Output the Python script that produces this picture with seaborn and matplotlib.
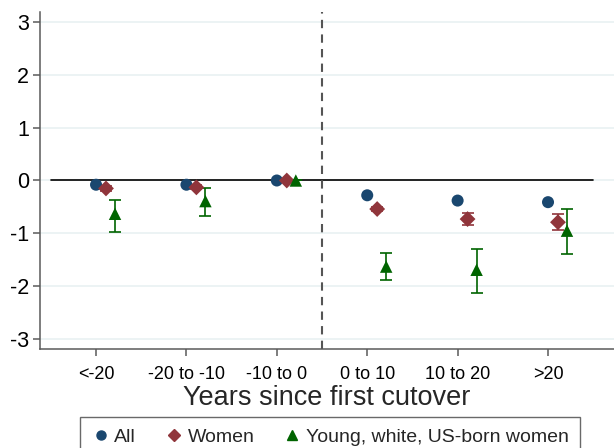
import matplotlib
matplotlib.use("Agg")
import matplotlib.pyplot as plt
import seaborn as sns
import pandas as pd
import numpy as np
from matplotlib.lines import Line2D

categories = ["<-20", "-20 to -10", "-10 to 0", "0 to 10", "10 to 20", ">20"]
series = ["All", "Women", "Young, white, US-born women"]

all_est = [-0.08, -0.08, 0.0, -0.28, -0.38, -0.41]
all_lo = [-0.09, -0.09, 0.0, -0.29, -0.39, -0.43]
all_hi = [-0.07, -0.07, 0.0, -0.27, -0.37, -0.39]

women_est = [-0.15, -0.13, 0.0, -0.54, -0.73, -0.79]
women_lo = [-0.19, -0.17, 0.0, -0.58, -0.85, -0.93]
women_hi = [-0.11, -0.09, 0.0, -0.50, -0.62, -0.64]

young_est = [-0.63, -0.39, 0.0, -1.63, -1.69, -0.95]
young_lo = [-0.97, -0.68, 0.0, -1.89, -2.13, -1.39]
young_hi = [-0.36, -0.15, 0.0, -1.37, -1.29, -0.54]

yticks = [-3, -2, -1, 0, 1, 2, 3]

colors = {"All": "#1a476f", "Women": "#90353b", "Young, white, US-born women": "#006400"}
markers = {"All": "o", "Women": "D", "Young, white, US-born women": "^"}
msizes = {"All": 75, "Women": 65, "Young, white, US-born women": 80}
offsets = {"All": 0.0, "Women": 0.11, "Young, white, US-born women": 0.21}

rows = []
for s, est, lo, hi in [("All", all_est, all_lo, all_hi),
                       ("Women", women_est, women_lo, women_hi),
                       ("Young, white, US-born women", young_est, young_lo, young_hi)]:
    for i, c in enumerate(categories):
        rows.append(dict(series=s, cat=c, pos=i + 1 + offsets[s], est=est[i], lo=lo[i], hi=hi[i]))
df = pd.DataFrame(rows)

sns.set_theme(style="white")
plt.rcParams["font.family"] = ["Liberation Sans", "DejaVu Sans"]

fig = plt.figure(figsize=(6.14, 4.48), dpi=100)
ax = fig.add_axes([40 / 614, 1 - 349 / 448, 1 - 40 / 614, (349 - 12) / 448])

for y in yticks:
    ax.axhline(y, color="#eaf2f3", lw=1.3, zorder=0)
ax.plot([0.5, 6.5], [0, 0], color="black", lw=1.2, zorder=1)
ax.axvline(3.5, color="#555555", lw=1.5, ls=(0, (4, 3)), zorder=1)

capsizes = {"All": 3, "Women": 4, "Young, white, US-born women": 4}
for s in series:
    d = df[df.series == s]
    ax.errorbar(d["pos"], d["est"], yerr=[d["est"] - d["lo"], d["hi"] - d["est"]],
                fmt="none", ecolor=colors[s], elinewidth=1.2, capsize=capsizes[s],
                capthick=1.2, zorder=2)

sns.scatterplot(data=df, x="pos", y="est", hue="series", style="series", size="series",
                palette=colors, markers=markers, sizes=msizes, hue_order=series,
                style_order=series, size_order=series,
                edgecolor="none", linewidth=0, ax=ax, legend=False, zorder=3)

ax.set_xlim(0.38, 6.73)
ax.set_ylim(-3.19, 3.19)
ax.set_xticks(range(1, 7))
ax.set_xticklabels(categories, fontsize=13)
ax.set_yticks(yticks)
ax.set_yticklabels([str(v) for v in yticks], fontsize=15.5)
ax.set_ylabel("")
ax.set_xlabel("Years since first cutover", fontsize=19.5, labelpad=2)
for sp in ["top", "right"]:
    ax.spines[sp].set_visible(False)
for sp in ["left", "bottom"]:
    ax.spines[sp].set_color("#5a5a5a")
    ax.spines[sp].set_linewidth(1.1)
ax.tick_params(axis="both", which="both", length=5, width=1.1, color="#5a5a5a", pad=3,
               bottom=True, left=True, labelcolor="black")
ax.tick_params(axis="x", pad=7)

handles = [Line2D([], [], ls="none", marker=markers[s], color=colors[s], markersize=6.5)
           for s in series]
leg = fig.legend(handles, series, loc="upper center", bbox_to_anchor=(0.538, 1 - 417 / 448),
                 ncol=3, frameon=True, fancybox=False, fontsize=14, handletextpad=0.25,
                 columnspacing=1.5, handlelength=0.9, borderpad=0.6, borderaxespad=0)
leg.get_frame().set_edgecolor("#444444")
leg.get_frame().set_linewidth(1.0)

fig.savefig("out.png", dpi=100)
